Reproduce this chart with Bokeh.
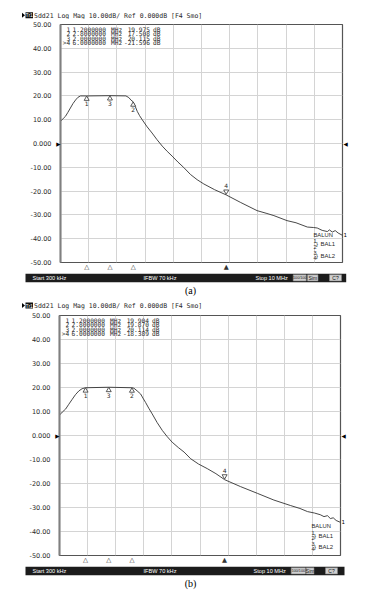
from bokeh.plotting import figure
from bokeh.models import Label, FixedTicker, LinearAxis, Range1d
from bokeh.layouts import column
from bokeh.core.properties import value
from bokeh.embed import file_html
from bokeh.resources import INLINE

# ---------------- data ----------------
F_START, F_STOP = 0.3, 10.0          # MHz
Y_MIN, Y_MAX = -50.0, 50.0           # dB

freq_a = [0.30, 0.40, 0.47, 0.55, 0.64, 0.73, 0.82, 0.90, 0.99, 1.20, 2.00, 2.55,
          2.65, 2.72, 2.80, 2.87, 2.94, 3.02, 3.11, 3.28, 3.45, 3.62, 3.80, 3.97,
          4.14, 4.34, 4.54, 4.77, 5.00, 5.23, 5.60, 6.00, 6.50, 7.06, 7.40, 7.64,
          8.09, 8.40, 8.79, 9.00, 9.13, 9.30, 9.48, 9.55, 9.65, 9.75, 9.85, 10.0]
sdd21_a = [9.3, 10.6, 11.4, 13.0, 14.9, 16.8, 18.3, 19.4, 20.0, 19.98, 20.1, 20.0,
           19.3, 18.3, 17.5, 15.6, 13.5, 11.7, 10.0, 7.0, 4.4, 1.6, -1.1, -3.3,
           -5.3, -7.8, -10.1, -13.0, -15.2, -17.0, -19.4, -21.6, -24.8, -28.2, -29.4, -30.3,
           -32.4, -33.3, -35.1, -35.3, -35.5, -36.5, -37.0, -36.3, -37.2, -36.6, -37.6, -38.6]

freq_b = [0.30, 0.40, 0.51, 0.62, 0.74, 0.85, 0.97, 1.08, 1.20, 2.00, 2.80, 2.87,
          2.98, 3.10, 3.18, 3.27, 3.38, 3.50, 3.67, 3.85, 4.02, 4.19, 4.40, 4.60,
          4.83, 5.10, 5.40, 5.70, 6.00, 6.55, 7.13, 7.70, 8.28, 8.60, 8.86, 9.10,
          9.30, 9.43, 9.55, 9.65, 9.75, 9.85, 10.0]
sdd21_b = [8.5, 9.8, 11.0, 13.0, 15.1, 17.0, 18.6, 19.5, 19.9, 20.1, 19.9, 19.7,
           18.6, 17.3, 15.6, 13.8, 11.4, 9.0, 5.4, 2.1, -0.5, -2.8, -5.0, -6.9,
           -9.7, -11.9, -13.8, -15.9, -18.4, -21.3, -24.1, -26.9, -29.2, -30.4, -31.7, -32.3,
           -33.0, -33.8, -33.4, -34.6, -34.3, -35.4, -36.2]

marker_ids = ["1", "2", "3", "4"]
marker_freq = [1.2, 2.8, 2.0, 6.0]
marker_db_a = [19.975, 17.508, 20.115, -21.596]
marker_db_b = [19.904, 19.870, 20.114, -18.389]
active_marker = 3
ref_level = 0.0

y_ticks = [50, 40, 30, 20, 10, 0, -10, -20, -30, -40, -50]
y_tick_labels = ["50.00", "40.00", "30.00", "20.00", "10.00", "0.000",
                 "-10.00", "-20.00", "-30.00", "-40.00", "-50.00"]

title_text = "Sdd21 Log Mag 10.00dB/ Ref 0.000dB [F4 Smo]"
status_left, status_mid, status_right = "Start 300 kHz", "IFBW 70 kHz", "Stop 10 MHz"
status_boxes = ["100/100", "Sim", "C?"]

FW = 365
SMALL = "DejaVu Sans"
MONO = "DejaVu Sans Mono"
NARROW = "Liberation Sans"
TXT = "#2a2a2a"


def key(v):
    return int(v) if float(v) == int(v) else v


def bare_axis(ax, size, standoff, color=TXT, font=SMALL):
    ax.major_tick_line_color = None
    ax.minor_tick_line_color = None
    ax.major_tick_out = 0
    ax.major_tick_in = 0
    ax.minor_tick_out = 0
    ax.minor_tick_in = 0
    ax.major_label_standoff = standoff
    ax.major_label_text_font = font
    ax.major_label_text_font_size = size
    ax.major_label_text_color = color


def strip(h):
    s = figure(width=FW, height=h, x_range=Range1d(0, FW), y_range=Range1d(h, 0),
               output_backend="svg", toolbar_location=None, min_border=0, frame_align=False)
    s.axis.visible = False
    s.grid.visible = False
    s.outline_line_color = None
    s.background_fill_color = "white"
    s.border_fill_color = "white"
    return s


def title_strip(h, ty):
    s = strip(h)
    s.patch([21.5, 24.5, 21.5], [ty - 2.5, ty, ty + 2.5], fill_color="black", line_color=None)
    s.quad(left=[25], right=[32.5], top=[ty - 3], bottom=[ty + 3], fill_color="#111111", line_color=None)
    s.text([28.7], [ty], text=["Tr1"], text_align="center", text_baseline="middle",
           text_font=value(NARROW), text_font_size="5px", text_color="white")
    s.text([33.5], [ty + 0.3], text=[title_text], text_align="left", text_baseline="middle",
           text_font=value(MONO), text_font_size="6.5px", text_color=TXT)
    return s


def bottom_strip(h, bar_h, bar_right, stop_x, boxes, cap_y, caption):
    s = strip(h)
    s.quad(left=[25], right=[bar_right], top=[0], bottom=[bar_h], fill_color="#1c1c1c", line_color=None)
    m = bar_h / 2
    for x, t in [(32, status_left), (143, status_mid), (stop_x, status_right)]:
        s.text([x], [m], text=[t], text_align="left", text_baseline="middle",
               text_font=value(NARROW), text_font_size="5.6px", text_color="white")
    for (x0, x1), t, fs in zip(boxes, status_boxes, ["3.7px", "5px", "5px"]):
        s.quad(left=[x0], right=[x1], top=[1.3], bottom=[bar_h - 1.3], fill_color="#d0d0d0",
               line_color="#888888", line_width=0.6)
        s.text([(x0 + x1) / 2], [m], text=[t], text_align="center", text_baseline="middle",
               text_font=value(NARROW), text_font_size=fs, text_color="#111111")
    s.text([190], [cap_y], text=[caption], text_align="center", text_baseline="middle",
           text_font=value("Liberation Serif"), text_font_size="10px", text_color="black")
    return s


def main_plot(freq, db, mk_db, g):
    bl, fw, fh, bt, bb = g["bl"], g["fw"], g["fh"], g["bt"], g["bb"]
    H = bt + fh + bb
    p = figure(width=FW, height=H, x_range=(F_START, F_STOP), y_range=(Y_MIN, Y_MAX),
               output_backend="svg", toolbar_location=None, frame_align=False,
               min_border_left=bl, min_border_right=FW - bl - fw,
               min_border_top=bt, min_border_bottom=bb)
    p.background_fill_color = "white"
    p.border_fill_color = "white"
    p.outline_line_color = "#555555"
    p.outline_line_width = 1.2
    ky = (Y_MAX - Y_MIN) / fh
    kx = (F_STOP - F_START) / fw

    # grid (10 horizontal divisions)
    p.xgrid.ticker = FixedTicker(ticks=[F_START + (F_STOP - F_START) * i / 10 for i in range(1, 10)])
    p.xgrid.grid_line_color = "#d4d4d4"
    p.ygrid.grid_line_color = "#d4d4d4"

    # x axis: marker position triangles below the grid
    xa = p.xaxis[0]
    xa.ticker = FixedTicker(ticks=marker_freq)
    xa.major_label_overrides = {key(f): ("\u25b2" if i == active_marker else "\u25b3")
                                for i, f in enumerate(marker_freq)}
    xa.axis_line_color = None
    bare_axis(xa, "6.5px", 0, "#333333")

    # y axes: reference arrow (nearest the grid) and the dB scale
    ya = p.yaxis[0]
    ya.ticker = FixedTicker(ticks=y_ticks)
    ya.major_label_overrides = {t: s for t, s in zip(y_ticks, y_tick_labels)}
    ya.axis_line_color = None
    bare_axis(ya, "6.5px", 2)

    arrow_l = LinearAxis(ticker=FixedTicker(ticks=[ref_level]),
                         major_label_overrides={key(ref_level): "\u25b6"})
    arrow_l.axis_line_color = "#808080"
    arrow_l.axis_line_width = 2
    bare_axis(arrow_l, "5.5px", 0, "black")
    p.left = [arrow_l, ya]

    arrow_r = LinearAxis(ticker=FixedTicker(ticks=[ref_level, db[-1]]),
                         major_label_overrides={key(ref_level): "\u25c0", key(db[-1]): "1"})
    arrow_r.axis_line_color = None
    bare_axis(arrow_r, "5.5px", 1, "black")
    p.add_layout(arrow_r, "right")

    # trace
    p.line(freq, db, line_color="#333333", line_width=0.9)

    # markers on trace
    inact = [i for i in range(len(marker_ids)) if i != active_marker]
    mx = [marker_freq[i] for i in inact]
    my = [mk_db[i] for i in inact]
    p.scatter(mx, [y - 3 * ky for y in my], marker="triangle", size=5,
              fill_color="white", line_color="#333333", line_width=0.8)
    p.text(mx, my, text=[marker_ids[i] for i in inact], y_offset=5.5, text_align="center",
           text_baseline="top", text_font=value(SMALL), text_font_size="6px", text_color=TXT)
    ax, ay = marker_freq[active_marker], mk_db[active_marker]
    p.scatter([ax], [ay + 3.5 * ky], marker="inverted_triangle", size=5,
              fill_color="white", line_color="#333333", line_width=0.8)
    p.text([ax], [ay], text=[marker_ids[active_marker]], y_offset=-6.5, text_align="center",
           text_baseline="bottom", text_font=value(SMALL), text_font_size="6px", text_color=TXT)

    # marker table (pixel offsets from the frame's top-left corner)
    def fx(dpx):
        return F_START + dpx * kx

    def fy(dpy):
        return Y_MAX - dpy * ky

    for k in range(len(marker_ids)):
        yy = fy(5.3 + 4.25 * k)
        lab = (">" if k == active_marker else "") + marker_ids[k]
        common = dict(y=yy, text_baseline="middle", text_font=MONO,
                      text_font_size="6.2px", text_color=TXT)
        p.add_layout(Label(x=fx(9.8), text=lab, text_align="right", **common))
        p.add_layout(Label(x=fx(12), text="%.7f" % marker_freq[k], text_align="left", **common))
        p.add_layout(Label(x=fx(50.5), text="MHz", text_align="left", **common))
        p.add_layout(Label(x=fx(89.5), text="%.3f" % mk_db[k], text_align="right", **common))
        p.add_layout(Label(x=fx(92.5), text="dB", text_align="left", **common))

    # port legend (bottom-right inside the grid)
    by = g["balun_dy"]
    small = dict(text_font=NARROW, text_color=TXT, text_baseline="middle")
    p.add_layout(Label(x=fx(fw - 29), y=fy(by), text="BALUN", text_font_size="5.8px", **small))
    for j, (a, b, nm) in enumerate([("1", "2", "BAL1"), ("3", "4", "BAL2")]):
        yy = by + 9.5 + 11.5 * j
        p.add_layout(Label(x=fx(fw - 29), y=fy(yy - 3), text=a, text_font_size="5.5px", **small))
        p.add_layout(Label(x=fx(fw - 29), y=fy(yy + 2.5), text=b, text_font_size="5.5px", **small))
        p.add_layout(Label(x=fx(fw - 26.5), y=fy(yy), text="}", text_font_size="6px", **small))
        p.add_layout(Label(x=fx(fw - 22), y=fy(yy), text=nm, text_font_size="6px", **small))
    return p


# panel (a): page y 0..296 ; panel (b): page y 296..596
top_a = title_strip(19, 14.7)
main_a = main_plot(freq_a, sdd21_a, marker_db_a, dict(bl=60, fw=282, fh=240, bt=5, bb=9, balun_dy=212))
bot_a = bottom_strip(23, 8.7, 345.7, 255, [(292.7, 305.7), (307, 317.5), (329, 341)], 17, "(a)")

top_b = title_strip(14, 9)
main_b = main_plot(freq_b, sdd21_b, marker_db_b, dict(bl=59, fw=281, fh=242, bt=5, bb=9, balun_dy=212.4))
bot_b = bottom_strip(30, 8.7, 344, 253, [(290.7, 305), (305.7, 313.5), (325, 337)], 17, "(b)")

layout = column(top_a, main_a, bot_a, top_b, main_b, bot_b, spacing=0)
open("out.html", "w").write(file_html(layout, INLINE))
